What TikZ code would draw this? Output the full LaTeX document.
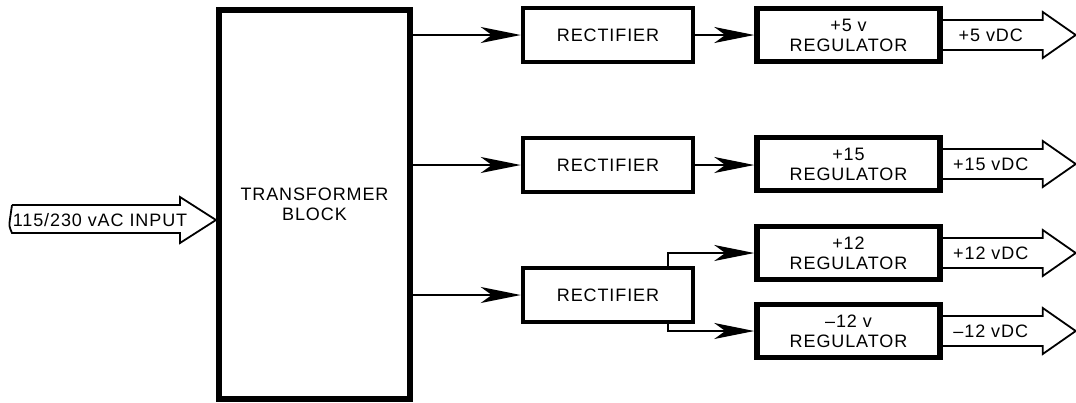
\documentclass[tikz,border=0pt]{standalone}
\usepackage{fontspec}
\setmainfont{Liberation Sans}[LetterSpace=5]
\usetikzlibrary{positioning, arrows.meta}

% wide output arrow on the right side of a regulator
\newcommand{\dcout}[2]{%
  \draw[fat] (#1.east) ++(0,-15) -- ++(100,0) -- ++(0,-8) -- ++(33,23)
    -- ++(-33,23) -- ++(0,-8) -- ++(-100,0);
  \node[lbl] at ([xshift=48pt]#1.east) {#2};}

\begin{document}
\begin{tikzpicture}[x=1pt, y=-1pt,
	font=\fontsize{18}{20}\selectfont,
	rect/.style={rectangle, draw, line width=4.5pt, minimum width=170pt, minimum height=54pt},
	reg/.style={rectangle, draw, line width=5.5pt, minimum width=183pt, minimum height=53pt, align=center},
	wire/.style={line width=1.8pt, -{Stealth[length=40pt, width=16pt, inset=11pt]}},
	fat/.style={line width=1.8pt, line join=miter},
	lbl/.style={inner sep=0pt}]
	\useasboundingbox (0,0) rectangle (1076,402);

	\node[draw, line width=6pt, minimum width=191pt, minimum height=389pt, align=center] (trans) at (314.5,204.5) {TRANSFORMER\\BLOCK};

	\node[rect] (rect1) at (608,35) {RECTIFIER};
	\node[rect] (rect2) at (608,165) {RECTIFIER};
	\node[rect] (rect3) at (608,295) {RECTIFIER};

	\node[reg] (reg5) at (848.5,35) {+5 v\\REGULATOR};
	\node[reg] (reg15) at (848.5,164) {+15\\REGULATOR};
	\node[reg] (reg12) at (848.5,253) {+12\\REGULATOR};
	\node[reg] (regm12) at (848.5,331) {\textendash12 v\\REGULATOR};

	% input
	\draw[fat] (12,205) -- (180,205) -- (180,197) -- (216,220) -- (180,243) -- (180,233) -- (12,233)
		.. controls (9,226) .. (10,219) .. controls (11,212) .. (12,205);
	\node[lbl] (acin) at (100,220) {115/230 vAC INPUT};

	\draw[wire] (trans.east |- rect1.west) -- (rect1.west);
	\draw[wire] (trans.east |- rect2.west) -- (rect2.west);
	\draw[wire] (trans.east |- rect3.west) -- (rect3.west);

	\draw[wire] (rect1.east) -- (reg5.west);
	\draw[wire] (rect2.east) -- (rect2.east -| reg15.west);
	\draw[wire] ([xshift=60pt]rect3.north) |- (reg12.west);
	\draw[wire] ([xshift=60pt]rect3.south) |- (regm12.west);

	\dcout{reg5}{+5 vDC}
	\dcout{reg15}{+15 vDC}
	\dcout{reg12}{+12 vDC}
	\dcout{regm12}{\textendash12 vDC}
\end{tikzpicture}
\end{document}
